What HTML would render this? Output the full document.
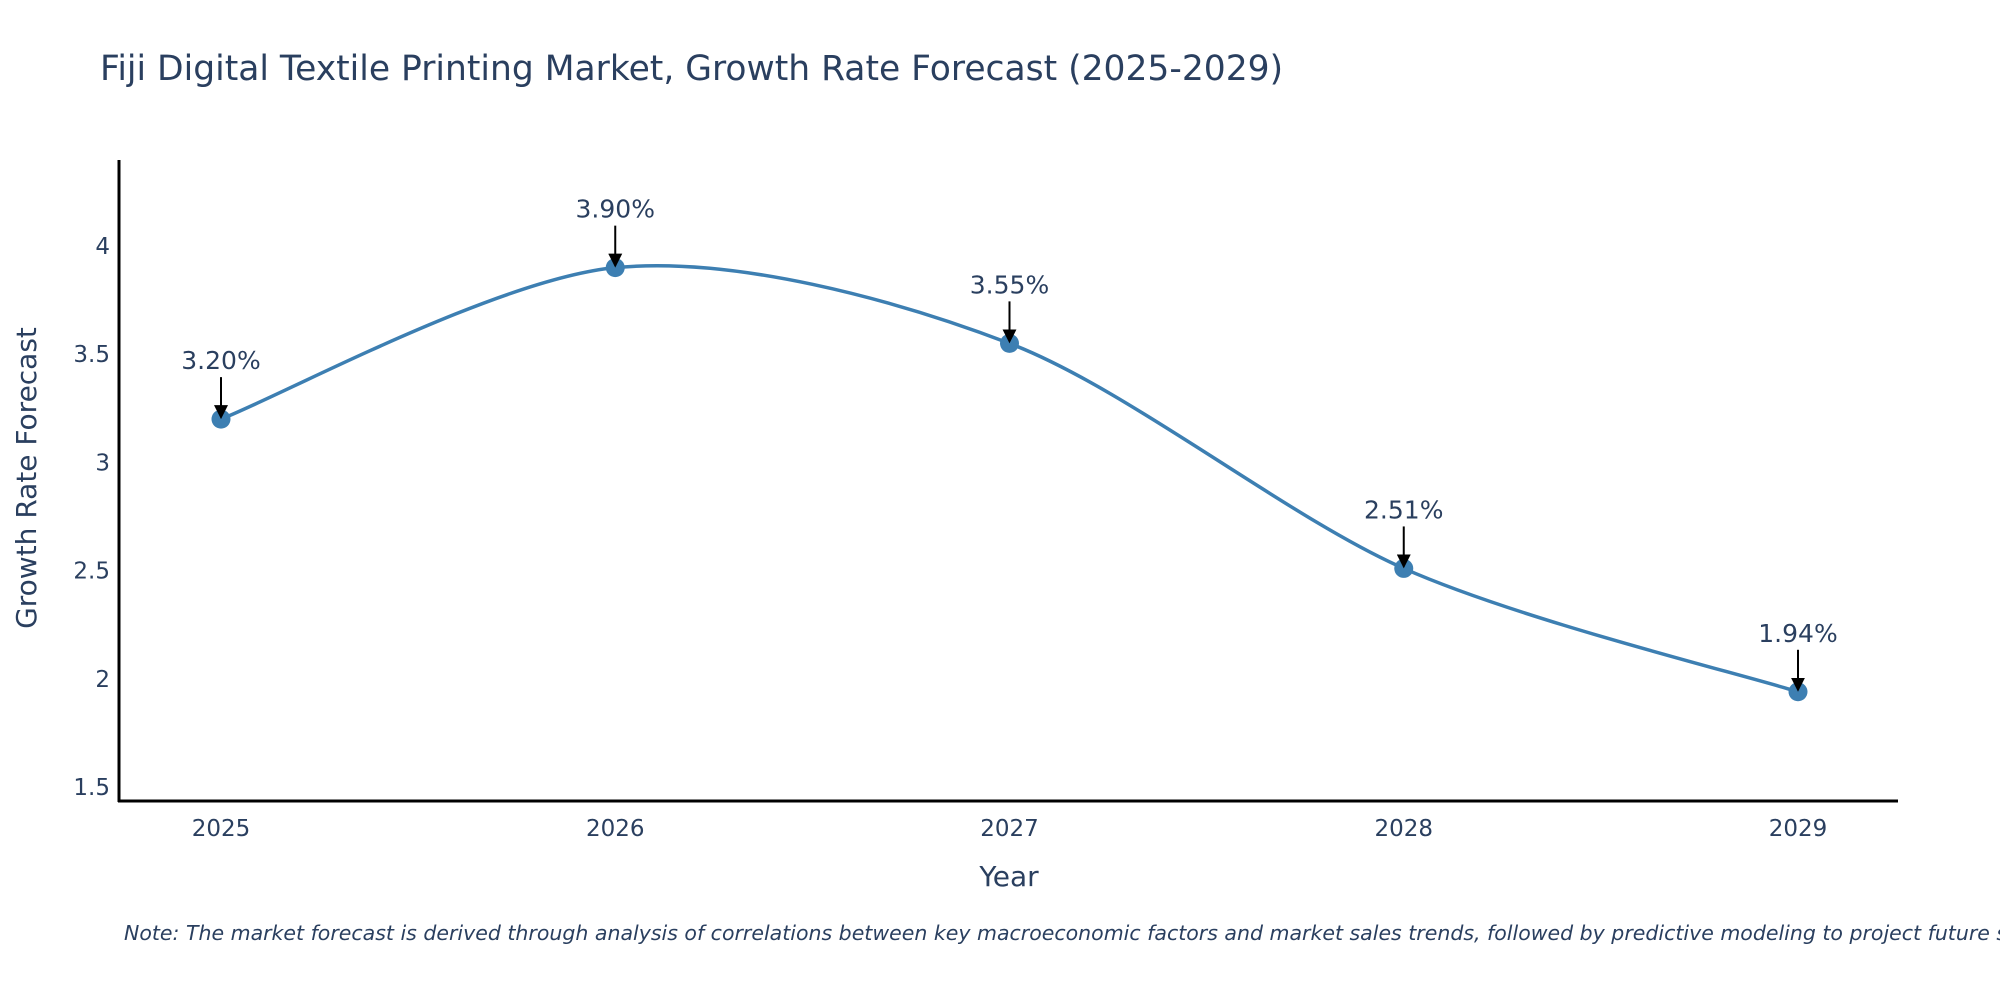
<!DOCTYPE html>
<html><head><meta charset="utf-8"><style>
html,body{margin:0;padding:0;background:#fff;}
svg text{font-family:"DejaVu Sans","Liberation Sans",sans-serif;fill:#2a3f5f;}
</style></head><body>
<svg width="2000" height="1000" viewBox="0 0 2000 1000" xmlns="http://www.w3.org/2000/svg">
<defs><marker id="ah" markerWidth="14" markerHeight="14" refX="12" refY="7" orient="auto" markerUnits="userSpaceOnUse" viewBox="0 0 14 14"><path d="M0,0 L14,7 L0,14 Z" fill="#000"/></marker></defs>
<text x="100" y="80" font-size="34.5">Fiji Digital Textile Printing Market, Growth Rate Forecast (2025-2029)</text>
<g id="plot"></g>
<line x1="119" y1="160" x2="119" y2="802" stroke="#000" stroke-width="3"/>
<line x1="118" y1="801" x2="1898" y2="801" stroke="#000" stroke-width="3"/>
<text x="1009" y="886" font-size="28" text-anchor="middle">Year</text>
<text transform="translate(36,478) rotate(-90)" font-size="28" text-anchor="middle">Growth Rate Forecast</text>
<text x="124" y="940" font-size="20.5" font-style="italic">Note: The market forecast is derived through analysis of correlations between key macroeconomic factors and market sales trends, followed by predictive modeling to project future sales.</text>
</svg>
<script>
const years = [2025, 2026, 2027, 2028, 2029];
const growth = [3.20, 3.90, 3.55, 2.51, 1.94];
const labels = ["3.20%", "3.90%", "3.55%", "2.51%", "1.94%"];
const yTicks = [1.5, 2, 2.5, 3, 3.5, 4];
const yTickLabels = ["1.5", "2", "2.5", "3", "3.5", "4"];

const NS = "http://www.w3.org/2000/svg";
const X0 = 221, XSTEP = 394.25, Y4 = 246, YUNIT = 216.4;
function xs(v){ return X0 + (v - years[0]) * XSTEP; }
function ys(v){ return Y4 + (4 - v) * YUNIT; }
const g = document.getElementById('plot');
function mk(tag, attrs){ const e = document.createElementNS(NS, tag); for (const k in attrs) e.setAttribute(k, attrs[k]); g.appendChild(e); return e; }

yTicks.forEach((t, i) => {
  const e = mk('text', {x: 110, y: ys(t) + 8, 'font-size': 23, 'text-anchor': 'end'});
  e.textContent = yTickLabels[i];
  
  
});
years.forEach(yr => {
  const e = mk('text', {x: xs(yr), y: 836, 'font-size': 23, 'text-anchor': 'middle'});
  e.textContent = String(yr);
  
  
});

const pts = years.map((yr, i) => [xs(yr), ys(growth[i])]);
let d = 'M' + pts[0][0] + ',' + pts[0][1];
const s = 0.15;
for (let i = 0; i < pts.length - 1; i++) {
  const p0 = pts[Math.max(0, i-1)], p1 = pts[i], p2 = pts[i+1], p3 = pts[Math.min(pts.length-1, i+2)];
  const c1 = [p1[0] + (p2[0]-p0[0])*s, p1[1] + (p2[1]-p0[1])*s];
  const c2 = [p2[0] - (p3[0]-p1[0])*s, p2[1] - (p3[1]-p1[1])*s];
  d += ' C' + c1.join(',') + ' ' + c2.join(',') + ' ' + p2.join(',');
}
const line = mk('path', {d: d, fill: 'none', stroke: '#3d7fb2', 'stroke-width': 3.5});



pts.forEach((p, i) => {
  const c = mk('circle', {cx: p[0], cy: p[1], r: 9.5, fill: '#3d7fb2'});
  
  
  const a = mk('line', {x1: p[0], y1: p[1] - 42, x2: p[0], y2: p[1] - 2, stroke: '#000', 'stroke-width': 2, 'marker-end': 'url(#ah)'});
  
  
  const t = mk('text', {x: p[0], y: p[1] - 50, 'font-size': 25, 'text-anchor': 'middle'});
  t.textContent = labels[i];
  
  
});
</script>
</body></html>
